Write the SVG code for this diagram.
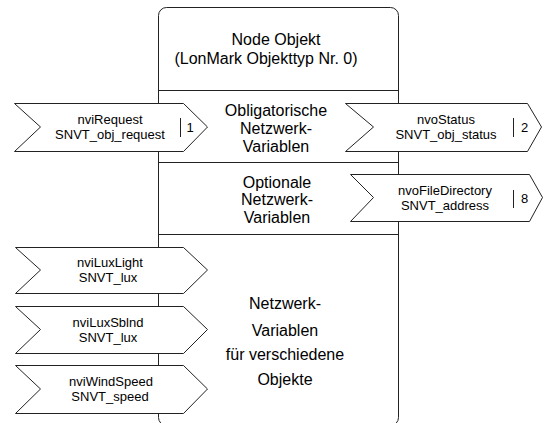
<svg xmlns="http://www.w3.org/2000/svg" width="546" height="423" viewBox="0 0 546 423">
<style>
  .ln{stroke:#222;stroke-width:1;fill:none}
  .chev{fill:#fff;stroke:#222;stroke-width:1}
  .big{font-family:"Liberation Sans",Arial,sans-serif;font-size:16px;fill:#000;text-anchor:middle}
  .sm{font-family:"Liberation Sans",Arial,sans-serif;font-size:13px;fill:#000;text-anchor:middle}
  .num{font-family:"Liberation Sans",Arial,sans-serif;font-size:13px;fill:#000}
</style>
<rect width="546" height="423" fill="#fff"/>
<g id="node-objekt">
  <rect class="ln" x="158.5" y="7.5" width="240" height="418" rx="8" ry="8"/>
  <text class="big" x="276" y="45">Node Objekt</text>
  <text class="big" x="266" y="63.5">(LonMark Objekttyp Nr. 0)</text>
</g>
<g id="sections">
  <line class="ln" x1="158.5" y1="90.5" x2="398.5" y2="90.5"/>
  <line class="ln" x1="158.5" y1="162.5" x2="398.5" y2="162.5"/>
  <line class="ln" x1="158.5" y1="234.5" x2="398.5" y2="234.5"/>
  <text class="big" x="276" y="116">Obligatorische</text>
  <text class="big" x="276" y="134">Netzwerk-</text>
  <text class="big" x="276" y="152">Variablen</text>
  <text class="big" x="277" y="187.5">Optionale</text>
  <text class="big" x="277" y="205">Netzwerk-</text>
  <text class="big" x="277" y="222.5">Variablen</text>
  <text class="big" x="285" y="309">Netzwerk-</text>
  <text class="big" x="285" y="336">Variablen</text>
  <text class="big" x="285" y="360">für verschiedene</text>
  <text class="big" x="285" y="385">Objekte</text>
</g>
<g id="connectors">
  <g id="nviRequest">
    <polygon class="chev" points="14.5,103.5 183.5,103.5 207.5,127 183.5,151.5 14.5,151.5 40.5,127"/>
    <text class="sm" x="110" y="124">nviRequest</text>
    <text class="sm" x="110" y="139">SNVT_obj_request</text>
    <line class="ln" x1="180.5" y1="118" x2="180.5" y2="137"/>
    <text class="num" x="186.5" y="131.5">1</text>
  </g>
  <g id="nvoStatus">
    <polygon class="chev" points="345.5,103.5 527.5,103.5 541.5,127 527.5,151.5 345.5,151.5 373.5,127"/>
    <text class="sm" x="446" y="124">nvoStatus</text>
    <text class="sm" x="446" y="139">SNVT_obj_status</text>
    <line class="ln" x1="513.5" y1="118" x2="513.5" y2="137"/>
    <text class="num" x="521" y="132">2</text>
  </g>
  <g id="nvoFileDirectory">
    <polygon class="chev" points="350.5,174.5 529.5,174.5 542.5,197.5 529.5,221.5 350.5,221.5 373.5,197.5"/>
    <text class="sm" x="445" y="194.5">nvoFileDirectory</text>
    <text class="sm" x="445" y="209.5">SNVT_address</text>
    <line class="ln" x1="513.5" y1="190" x2="513.5" y2="208"/>
    <text class="num" x="521" y="202.5">8</text>
  </g>
  <g id="nviLuxLight">
    <polygon class="chev" points="15.5,247.5 183.5,247.5 207.5,270 183.5,293.5 15.5,293.5 40.5,270"/>
    <text class="sm" x="110" y="267">nviLuxLight</text>
    <text class="sm" x="108" y="282">SNVT_lux</text>
  </g>
  <g id="nviLuxSblnd">
    <polygon class="chev" points="15.5,306.5 183.5,306.5 207.5,329.5 183.5,353.5 15.5,353.5 40.5,329.5"/>
    <text class="sm" x="108" y="327">nviLuxSblnd</text>
    <text class="sm" x="108" y="342">SNVT_lux</text>
  </g>
  <g id="nviWindSpeed">
    <polygon class="chev" points="15.5,365.5 183.5,365.5 207.5,389 183.5,413.5 15.5,413.5 40.5,389"/>
    <text class="sm" x="111" y="386">nviWindSpeed</text>
    <text class="sm" x="110" y="401">SNVT_speed</text>
  </g>
</g>
</svg>
